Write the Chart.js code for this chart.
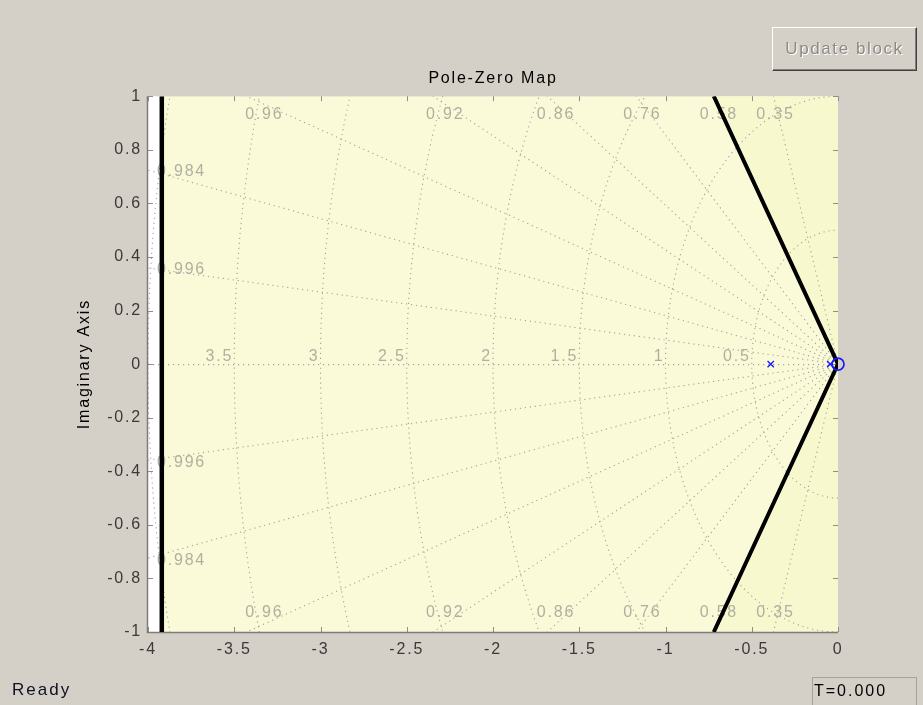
<!DOCTYPE html>
<html>
<head>
<meta charset="utf-8">
<script src="https://cdn.jsdelivr.net/npm/chart.js@4.4.1/dist/chart.umd.min.js"></script>
<style>
html,body{margin:0;padding:0;background:#D4D0C8;width:923px;height:705px;overflow:hidden;font-family:"Liberation Sans",Arial,sans-serif;}
#c{position:absolute;left:0;top:0;}
#ready{position:absolute;left:12px;top:680px;font-size:17px;line-height:20px;letter-spacing:2px;color:#101020;}
#tbox{position:absolute;left:812px;top:677px;width:105px;height:28px;box-sizing:border-box;border:1px solid #a6a39c;border-bottom:none;font-size:16px;line-height:26px;padding-left:1px;letter-spacing:2px;color:#000;}
#btn{position:absolute;left:772px;top:27px;width:145px;height:44px;box-sizing:border-box;
 border-top:1px solid #ffffff;border-left:1px solid #ffffff;border-right:1px solid #404040;border-bottom:1px solid #404040;
 box-shadow:inset -1px -1px 0 #808080;font-size:17px;line-height:42px;text-align:center;letter-spacing:1.6px;color:#8d8a84;text-shadow:1px 1px 0 #ffffff;white-space:nowrap;}
</style>
</head>
<body>
<canvas id="c" width="923" height="705"></canvas>
<div id="btn">Update block</div>
<div id="ready">Ready</div>
<div id="tbox">T=0.000</div>
<script>
// ---- data ----
const xTicks = [-4, -3.5, -3, -2.5, -2, -1.5, -1, -0.5, 0];
const xTickLabels = ['-4', '-3.5', '-3', '-2.5', '-2', '-1.5', '-1', '-0.5', '0'];
const yTicks = [-1, -0.8, -0.6, -0.4, -0.2, 0, 0.2, 0.4, 0.6, 0.8, 1];
const yTickLabels = ['-1', '-0.8', '-0.6', '-0.4', '-0.2', '0', '0.2', '0.4', '0.6', '0.8', '1'];
const poleRe = [-0.39, -0.045];
const poleIm = [0, 0];
const zeroRe = [0];
const zeroIm = [0];
const dampingValues = [0.35, 0.58, 0.76, 0.86, 0.92, 0.96, 0.984, 0.996];
const dampingLabels = ['0.35', '0.58', '0.76', '0.86', '0.92', '0.96', '0.984', '0.996'];
const wnValues = [0.5, 1, 1.5, 2, 2.5, 3, 3.5, 4];
const wnLabels = ['0.5', '1', '1.5', '2', '2.5', '3', '3.5', ''];
const settlingRe = [-3.92, -3.92];
const settlingIm = [-1, 1];
const overshootRe = [-0.72, 0, -0.72];
const overshootIm = [1, 0, -1];

const FONT = '"Liberation Sans", Arial, sans-serif';
const PLOT_BG = '#FAFAD9';
const SHADE = '#F8F8CF';
const GRID_COL = '#A3A397';
const GRID_TXT = '#B0B0A1';

const sgrid = {
  id: 'sgrid',
  beforeDraw(chart) {
    const ctx = chart.ctx;
    ctx.letterSpacing = '1.8px';
    const a = chart.chartArea, xs = chart.scales.x, ys = chart.scales.y;
    const px = v => xs.getPixelForValue(v), py = v => ys.getPixelForValue(v);
    ctx.save();
    ctx.beginPath();
    ctx.rect(a.left, a.top, a.right - a.left, a.bottom - a.top);
    ctx.clip();
    ctx.fillStyle = PLOT_BG;
    ctx.fillRect(a.left, a.top, a.right - a.left, a.bottom - a.top);
    // excluded regions
    ctx.fillStyle = '#FFFFFF';
    ctx.fillRect(a.left, a.top, px(settlingRe[0]) - a.left, a.bottom - a.top);
    ctx.fillStyle = SHADE;
    ctx.beginPath();
    ctx.moveTo(px(overshootRe[0]), py(overshootIm[0]));
    for (let i = 1; i < overshootRe.length; i++) ctx.lineTo(px(overshootRe[i]), py(overshootIm[i]));
    ctx.lineTo(a.right, a.bottom);
    ctx.lineTo(a.right, a.top);
    ctx.closePath();
    ctx.fill();
    // dotted s-grid
    ctx.strokeStyle = GRID_COL;
    ctx.lineWidth = 1.1;
    ctx.setLineDash([1.2, 3.8]);
    ctx.beginPath();
    ctx.moveTo(px(xs.min), py(0) + 0.5);
    ctx.lineTo(px(0), py(0) + 0.5);
    ctx.stroke();
    const far = 20;
    dampingValues.forEach(z => {
      const s = Math.sqrt(1 - z * z) / z;
      ctx.beginPath();
      ctx.moveTo(px(0), py(0));
      ctx.lineTo(px(-far), py(far * s));
      ctx.moveTo(px(0), py(0));
      ctx.lineTo(px(-far), py(-far * s));
      ctx.stroke();
    });
    wnValues.forEach(r => {
      ctx.beginPath();
      ctx.ellipse(px(0), py(0), px(0) - px(-r), py(0) - py(r), 0, Math.PI / 2, Math.PI * 1.5);
      ctx.stroke();
    });
    ctx.setLineDash([]);
    // labels
    ctx.font = '16px ' + FONT;
    ctx.fillStyle = GRID_TXT;
    ctx.textBaseline = 'middle';
    dampingValues.forEach((z, i) => {
      const s = Math.sqrt(1 - z * z) / z;
      const yLeft = -xs.min * s;
      if (yLeft > ys.max) {
        const xl = -0.97 * ys.max / s;
        ctx.textAlign = 'center';
        ctx.fillText(dampingLabels[i], px(xl), a.top + 18);
        ctx.fillText(dampingLabels[i], px(xl), a.bottom - 19);
      } else {
        ctx.textAlign = 'left';
        ctx.fillText(dampingLabels[i], a.left + 9, py(yLeft) + 2);
        ctx.fillText(dampingLabels[i], a.left + 9, py(-yLeft) + 2);
      }
    });
    ctx.textAlign = 'right';
    ctx.textBaseline = 'alphabetic';
    wnValues.forEach((r, i) => {
      if (wnLabels[i]) ctx.fillText(wnLabels[i], px(-r) - 1, py(0) - 3);
    });
    ctx.restore();
  },
  beforeDatasetsDraw(chart) {
    const ctx = chart.ctx;
    const a = chart.chartArea, xs = chart.scales.x, ys = chart.scales.y;
    const px = v => xs.getPixelForValue(v), py = v => ys.getPixelForValue(v);
    ctx.save();
    ctx.strokeStyle = '#8e8e8e';
    ctx.lineWidth = 1;
    ctx.beginPath();
    yTicks.forEach(v => {
      const yy = Math.round(py(v)) + 0.5;
      ctx.moveTo(a.left, yy); ctx.lineTo(a.left + 5, yy);
      ctx.moveTo(a.right - 5, yy); ctx.lineTo(a.right, yy);
    });
    xTicks.forEach(v => {
      const xx = Math.round(px(v)) + 0.5;
      ctx.moveTo(xx, a.top); ctx.lineTo(xx, a.top + 5);
      ctx.moveTo(xx, a.bottom - 5); ctx.lineTo(xx, a.bottom);
    });
    ctx.stroke();
    ctx.strokeStyle = '#7c7c7c';
    ctx.lineWidth = 1.5;
    ctx.beginPath();
    ctx.moveTo(a.left - 0.5, a.top);
    ctx.lineTo(a.left - 0.5, a.bottom + 0.5);
    ctx.lineTo(a.right, a.bottom + 0.5);
    ctx.stroke();
    ctx.restore();
  }
};

const toPts = (xs, ys) => xs.map((v, i) => ({ x: v, y: ys[i] }));

new Chart(document.getElementById('c'), {
  type: 'scatter',
  data: {
    datasets: [
      {
        label: 'Zeros',
        data: toPts(zeroRe, zeroIm),
        pointStyle: 'circle',
        pointRadius: 6,
        pointBorderWidth: 1.7,
        borderColor: '#1a1aff',
        backgroundColor: 'rgba(0,0,0,0)',
        clip: 10
      },
      {
        label: 'Poles',
        data: toPts(poleRe, poleIm),
        pointStyle: 'crossRot',
        pointRadius: 4.5,
        pointBorderWidth: 1.3,
        borderColor: '#1a1aff',
        backgroundColor: '#1a1aff',
        clip: 10
      },
      {
        label: 'Overshoot constraint',
        data: toPts(overshootRe, overshootIm),
        showLine: true,
        borderColor: '#000000',
        borderWidth: 4,
        pointRadius: 0,
        tension: 0
      },
      {
        label: 'Settling constraint',
        data: toPts(settlingRe, settlingIm),
        showLine: true,
        borderColor: '#000000',
        borderWidth: 4.5,
        pointRadius: 0,
        tension: 0
      }
    ]
  },
  options: {
    responsive: false,
    animation: false,
    layout: { padding: { left: 70, right: 85, top: 1, bottom: 43 } },
    plugins: {
      legend: { display: false },
      tooltip: { enabled: false },
      title: {
        display: true,
        fullSize: false,
        text: 'Pole-Zero Map',
        color: '#000000',
        font: { family: FONT, size: 16, weight: 'normal' },
        padding: { top: 68, bottom: 8 }
      }
    },
    scales: {
      x: {
        type: 'linear',
        position: 'bottom',
        min: -4,
        max: 0,
        afterBuildTicks: s => { s.ticks = xTicks.map(v => ({ value: v })); },
        afterFit: s => { s.height = 30; },
        ticks: {
          callback: (v, i) => xTickLabels[i],
          color: '#3a3a3a',
          font: { family: FONT, size: 16 },
          padding: 8,
          maxRotation: 0,
          autoSkip: false
        },
        grid: { display: false, drawTicks: false },
        border: { display: false }
      },
      y: {
        type: 'linear',
        position: 'left',
        min: -1,
        max: 1,
        afterBuildTicks: s => { s.ticks = yTicks.map(v => ({ value: v })); },
        afterFit: s => { s.width = 78; },
        ticks: {
          callback: (v, i) => yTickLabels[i],
          color: '#3a3a3a',
          font: { family: FONT, size: 16 },
          padding: 6,
          autoSkip: false
        },
        grid: { display: false, drawTicks: false },
        border: { display: false },
        title: {
          display: true,
          text: 'Imaginary Axis',
          color: '#000000',
          font: { family: FONT, size: 16 },
          padding: { top: 5, bottom: 0 }
        }
      }
    }
  },
  plugins: [sgrid]
});
</script>
</body>
</html>
